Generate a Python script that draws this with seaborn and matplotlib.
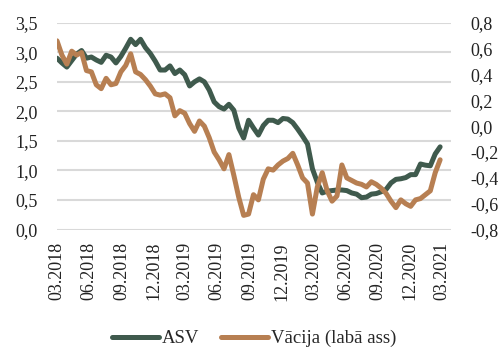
import numpy as np
import pandas as pd
import matplotlib
matplotlib.use("Agg")
import matplotlib.pyplot as plt
from matplotlib.lines import Line2D
import seaborn as sns

# 10 gadu obligaciju ienesigums, % (divu nedelu solis no 03.2018)
start = "2018-03-01"
asv = [2.90, 2.82, 2.75, 2.86, 2.97, 3.03, 2.90, 2.92, 2.87, 2.83,
       2.95, 2.92, 2.82, 2.93, 3.07, 3.22, 3.13, 3.22, 3.08, 2.98,
       2.85, 2.70, 2.70, 2.77, 2.64, 2.70, 2.62, 2.43, 2.50, 2.55,
       2.50, 2.36, 2.16, 2.08, 2.04, 2.12, 2.02, 1.72, 1.55, 1.85,
       1.72, 1.60, 1.76, 1.85, 1.85, 1.81, 1.88, 1.87, 1.81, 1.70,
       1.58, 1.45, 1.03, 0.80, 0.62, 0.65, 0.66, 0.67, 0.67, 0.66,
       0.62, 0.60, 0.54, 0.55, 0.60, 0.61, 0.64, 0.68, 0.79, 0.85,
       0.86, 0.88, 0.93, 0.93, 1.11, 1.09, 1.08, 1.28, 1.40]
vacija = [0.66, 0.55, 0.48, 0.58, 0.55, 0.57, 0.43, 0.42, 0.32, 0.29,
          0.37, 0.32, 0.33, 0.42, 0.47, 0.56, 0.42, 0.40, 0.36, 0.31,
          0.25, 0.24, 0.25, 0.22, 0.08, 0.12, 0.10, 0.02, -0.04, 0.04,
          0.00, -0.09, -0.20, -0.26, -0.33, -0.22, -0.38, -0.55, -0.69, -0.68,
          -0.53, -0.57, -0.41, -0.33, -0.34, -0.30, -0.27, -0.25, -0.21, -0.30,
          -0.40, -0.44, -0.68, -0.47, -0.36, -0.50, -0.58, -0.54, -0.30, -0.40,
          -0.42, -0.44, -0.45, -0.47, -0.43, -0.45, -0.48, -0.52, -0.58, -0.63,
          -0.57, -0.60, -0.62, -0.57, -0.56, -0.53, -0.50, -0.36, -0.26]
left_ticks = [0.0, 0.5, 1.0, 1.5, 2.0, 2.5, 3.0, 3.5]
right_ticks = [-0.8, -0.6, -0.4, -0.2, 0.0, 0.2, 0.4, 0.6, 0.8]

dates = pd.date_range(start, periods=len(asv), freq="14D")
xticks = pd.date_range("2018-03-01", "2021-03-01", freq="3MS")

c_asv = "#3f5a4d"
c_de = "#b77f52"

sns.set_style("white")
plt.rcParams["font.family"] = ["Liberation Serif", "DejaVu Serif"]

fig = plt.figure(figsize=(5, 3.61), dpi=100)
ax = fig.add_axes([0.114, 0.364, 0.788, 0.573])
ax2 = ax.twinx()

sns.lineplot(x=dates, y=asv, ax=ax, color=c_asv, lw=3.6)
sns.lineplot(x=dates, y=vacija, ax=ax2, color=c_de, lw=3.6)

ax.set_ylim(0, 3.5)
ax.set_yticks(left_ticks)
ax.set_yticklabels([f"{v:.1f}".replace(".", ",") for v in left_ticks])
ax2.set_ylim(-0.8, 0.8)
ax2.set_yticks(right_ticks)
ax2.set_yticklabels([f"{v:.1f}".replace(".", ",") for v in right_ticks])

ax.set_xlim(pd.Timestamp("2018-03-01"), pd.Timestamp("2021-03-28"))
ax.set_xticks(xticks)
ax.set_xticklabels([d.strftime("%m.%Y") for d in xticks], rotation=90)

ax.yaxis.grid(True, color="#d9d9d9", lw=1.5)
ax.xaxis.grid(False)
ax2.grid(False)
for a in (ax, ax2):
    for s in a.spines.values():
        s.set_visible(False)
    a.tick_params(length=0, labelsize=13, colors="#222222")
    a.set_xlabel("")
    a.set_ylabel("")
ax.tick_params(axis="y", pad=14)
ax2.tick_params(axis="y", pad=14)
ax.tick_params(axis="x", pad=9)

handles = [Line2D([], [], color=c_asv, lw=3.6), Line2D([], [], color=c_de, lw=3.6)]
fig.legend(handles, ["ASV", "Vācija (labā ass)"], loc="center",
           bbox_to_anchor=(0.508, 0.062), ncol=2, frameon=False,
           fontsize=13.5, handlelength=2.5, handletextpad=0.15, columnspacing=1.2)

fig.savefig("out.png", dpi=100)
